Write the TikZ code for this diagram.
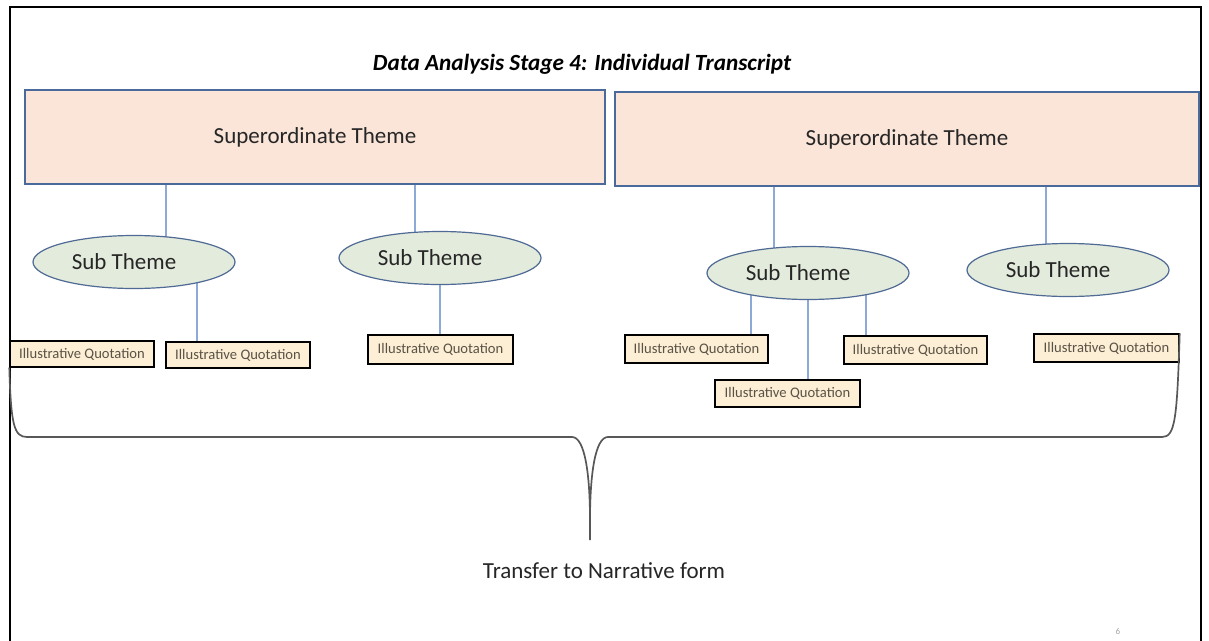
\documentclass[tikz,border=0pt]{standalone}
\usepackage{fontspec}
\setmainfont{Carlito}
\usetikzlibrary{shapes.geometric}
\definecolor{superfill}{HTML}{FAE5D8}
\definecolor{superdraw}{HTML}{4A6A9C}
\definecolor{subfill}{HTML}{E3EBDC}
\definecolor{subdraw}{HTML}{4F6A94}
\definecolor{connblue}{HTML}{8EA9D8}
\definecolor{quotefill}{HTML}{FCEFD6}
\definecolor{quotetext}{HTML}{5A5244}
\definecolor{bracegray}{HTML}{585858}
\definecolor{inktext}{HTML}{262626}
\pgfdeclarelayer{background}
\pgfsetlayers{background,main}
\tikzset{
  superbox/.style={draw=superdraw, fill=superfill, line width=1.2pt, rectangle,
    minimum width=#1, minimum height=94pt, inner sep=0pt, text=inktext,
    font=\fontsize{23}{27}\selectfont},
  subtheme/.style={draw=subdraw, fill=subfill, line width=1.2pt, ellipse,
    minimum width=202pt, minimum height=53pt, inner sep=0pt, text=inktext,
    font=\fontsize{23}{27}\selectfont},
  quote/.style={draw=black, fill=quotefill, line width=1.4pt, rectangle,
    minimum width=144pt, minimum height=27pt, inner sep=0pt, text=quotetext,
    font=\fontsize{14.6}{16}\selectfont},
  conn/.style={draw=connblue, line width=1.5pt},
  bracket/.style={draw=bracegray, line width=1.7pt},
  frame/.style={draw=black, line width=1.5pt}
}
\begin{document}
\begin{tikzpicture}[x=1pt, y=-1pt]
\useasboundingbox (0,0) rectangle (1209,640);

% page frame, open at the bottom edge
\draw[frame] (10,645) -- (10,7) -- (1201,7) -- (1201,645);

% title
\node (title) at (582,64) {\fontsize{23.2}{27}\selectfont\bfseries\itshape Data Analysis Stage 4: Individual Transcript};

% superordinate themes
\node[superbox=580pt] (sup1) at (315,137) {Superordinate Theme};
\node[superbox=584pt] (sup2) at (907,139) {Superordinate Theme};

% sub themes (label nudged left inside the ellipse)
\node[subtheme] (sub1) at (134,262) {Sub Theme\hspace*{20pt}};
\node[subtheme] (sub2) at (440,258) {Sub Theme\hspace*{20pt}};
\node[subtheme] (sub3) at (808,273) {Sub Theme\hspace*{20pt}};
\node[subtheme] (sub4) at (1068,270) {Sub Theme\hspace*{20pt}};

% illustrative quotations
\node[quote, minimum width=144pt, minimum height=26pt] (q1) at (82,354) {Illustrative Quotation};
\node[quote, minimum width=144pt, minimum height=26pt] (q2) at (238,355) {Illustrative Quotation};
\node[quote, minimum width=145pt, minimum height=29pt] (q3) at (440.5,349.5) {Illustrative Quotation};
\node[quote, minimum width=143pt, minimum height=28pt] (q4) at (696.5,349) {Illustrative Quotation};
\node[quote, minimum width=145pt, minimum height=27pt] (q5) at (787.5,393.5) {Illustrative Quotation};
\node[quote, minimum width=143pt, minimum height=28pt] (q6) at (915.5,350) {Illustrative Quotation};
\node[quote, minimum width=145pt, minimum height=28pt] (q7) at (1106.5,348) {Illustrative Quotation};

% white page and connectors, kept behind the shapes
\begin{pgfonlayer}{background}
  \fill[white] (0,0) rectangle (1209,640);
  \draw[conn] ([xshift=32pt]sub1.center) -- ([xshift=32pt]sub1.center |- sup1.south);
  \draw[conn] ([xshift=-25pt]sub2.center) -- ([xshift=-25pt]sub2.center |- sup1.south);
  \draw[conn] ([xshift=-34pt]sub3.center) -- ([xshift=-34pt]sub3.center |- sup2.south);
  \draw[conn] ([xshift=-22pt]sub4.center) -- ([xshift=-22pt]sub4.center |- sup2.south);
  \draw[conn] ([xshift=63pt]sub1.center) -- ([xshift=63pt]sub1.center |- q2.north);
  \draw[conn] (sub2.center) -- (sub2.center |- q3.north);
  \draw[conn] ([xshift=-57pt]sub3.center) -- ([xshift=-57pt]sub3.center |- q4.north);
  \draw[conn] (sub3.center) -- (sub3.center |- q5.north);
  \draw[conn] ([xshift=58pt]sub3.center) -- ([xshift=58pt]sub3.center |- q6.north);
\end{pgfonlayer}

% gathering brace
\coordinate (tip) at (590,540);
\draw[bracket] (q1.south west) .. controls (11,425) and (14,437) .. (27,437)
  -- (572,437) .. controls (585,437) and (590,475) .. (590,520) -- (tip);
\draw[bracket] (590,520) .. controls (590,475) and (595,437) .. (608,437)
  -- (1162,437) .. controls (1175,437) and (1177,420) .. (q7.north east);

\node[text=inktext, font=\fontsize{23}{27}\selectfont] (narr) at (604,571) {Transfer to Narrative form};

% page number
\node[text=black!35, font=\fontsize{9}{11}\selectfont] (pg) at (1118,631) {6};
\end{tikzpicture}
\end{document}
